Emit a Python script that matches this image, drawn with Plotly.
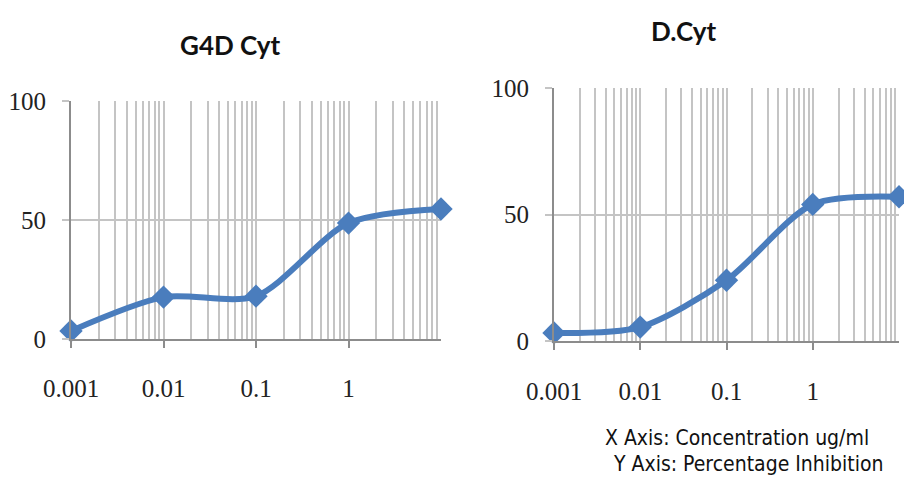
import plotly.graph_objects as go

# Data
conc = [0.001, 0.01, 0.1, 1, 10]
g4d_cyt = [3.4, 17.6, 18.0, 48.7, 54.6]
d_cyt = [3.2, 5.5, 24.0, 54.0, 57.0]
x_tickvals = [0.001, 0.01, 0.1, 1]
x_ticktext = ["0.001", "0.01", "0.1", "1"]
y_tickvals = [0, 50, 100]
minor_vals = [k * 10.0 ** e for e in range(-3, 1) for k in range(2, 11)]

line_color = "#4a7dbd"
grid_color = "#c4c4c4"
axis_color = "#8c8c8c"
tick_font = dict(family="Liberation Serif, Times New Roman, serif", size=25, color="#222222")

fig = go.Figure()
fig.add_trace(go.Scatter(x=conc, y=g4d_cyt, mode="lines+markers", xaxis="x", yaxis="y",
                         line=dict(color=line_color, width=6, shape="spline", smoothing=0.8),
                         marker=dict(symbol="diamond", size=18, color=line_color), cliponaxis=False))
fig.add_trace(go.Scatter(x=conc, y=d_cyt, mode="lines+markers", xaxis="x2", yaxis="y2",
                         line=dict(color=line_color, width=6, shape="spline", smoothing=0.8),
                         marker=dict(symbol="diamond", size=18, color=line_color), cliponaxis=False))

def xaxis(domain, anchor, standoff):
    return dict(type="log", domain=domain, anchor=anchor, range=[-3, 1], automargin=False,
                tickvals=x_tickvals, ticktext=x_ticktext, ticks="outside", ticklen=7,
                tickcolor=axis_color, tickwidth=2, ticklabelstandoff=standoff,
                showgrid=True, gridcolor=grid_color, gridwidth=2,
                showline=True, linecolor=axis_color, linewidth=2,
                minor=dict(tickvals=minor_vals, showgrid=True, gridcolor=grid_color, gridwidth=2, ticks=""),
                tickfont=tick_font, zeroline=False, fixedrange=True)

def yaxis(domain, anchor):
    return dict(domain=domain, anchor=anchor, range=[0, 100], tickvals=y_tickvals, automargin=False,
                ticks="outside", ticklen=7, tickcolor=grid_color, tickwidth=2, ticklabelstandoff=11,
                showgrid=True, gridcolor=grid_color, gridwidth=2,
                showline=True, linecolor=axis_color, linewidth=2,
                tickfont=tick_font, zeroline=False, fixedrange=True)

note_font = dict(family="DejaVu Sans Condensed, Liberation Sans Narrow, Liberation Sans, Arial, sans-serif",
                 size=21, color="#111111")

fig.update_layout(
    width=904, height=480, margin=dict(l=0, r=0, t=0, b=0),
    paper_bgcolor="white", plot_bgcolor="white", showlegend=False,
    xaxis=xaxis([71 / 904, 441 / 904], "y", 19),
    yaxis=yaxis([1 - 339 / 480, 1 - 101 / 480], "x"),
    xaxis2=xaxis([554 / 904, 899 / 904], "y2", 20),
    yaxis2=yaxis([1 - 341 / 480, 1 - 88 / 480], "x2"),
    annotations=[
        dict(text="<b>G4D Cyt</b>", x=231 / 904, y=1 - 45 / 480, xref="paper", yref="paper",
             showarrow=False, xanchor="center", yanchor="middle",
             font=dict(family="Lato, Carlito, sans-serif", size=26, color="#111111")),
        dict(text="<b>D.Cyt</b>", x=683 / 904, y=1 - 31 / 480, xref="paper", yref="paper",
             showarrow=False, xanchor="center", yanchor="middle",
             font=dict(family="Lato, Carlito, sans-serif", size=26, color="#111111")),
        dict(text="X Axis: Concentration ug/ml", x=737 / 904, y=1 - 438 / 480, xref="paper", yref="paper",
             showarrow=False, xanchor="center", yanchor="middle", font=note_font),
        dict(text="Y Axis: Percentage Inhibition", x=748 / 904, y=1 - 464 / 480, xref="paper", yref="paper",
             showarrow=False, xanchor="center", yanchor="middle", font=note_font),
    ],
)

fig.write_html("out.html", config={"displayModeBar": False},
               post_script="document.body.style.margin='0';document.body.style.overflow='hidden';")
